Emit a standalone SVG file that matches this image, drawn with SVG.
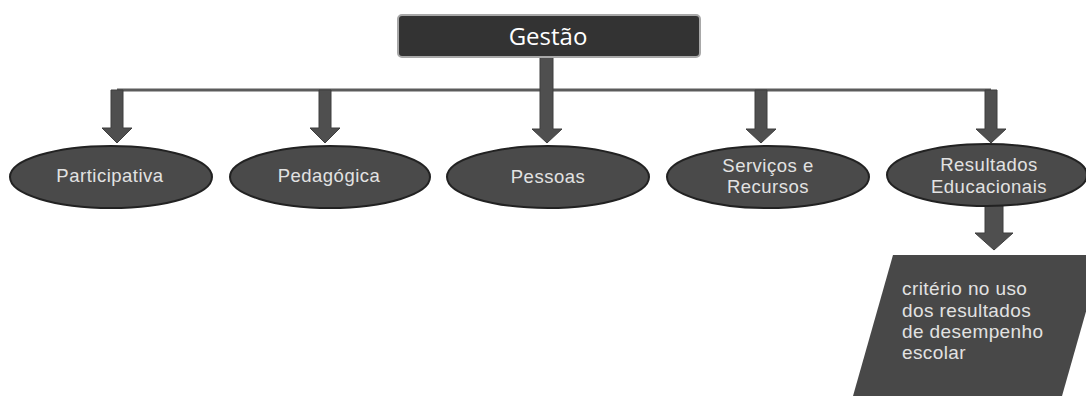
<svg xmlns="http://www.w3.org/2000/svg" width="1086" height="403" viewBox="0 0 1086 403">
<defs>
<style>
.conn{fill:#4f4f4f;stroke:#3f3f3f;stroke-width:1}
.hline{stroke:#5c5c5c;stroke-width:3;fill:none}
.ell{fill:#4a4a4a;stroke:#222;stroke-width:2}
.etxt{font-family:"Liberation Sans",Arial,sans-serif;font-size:18.5px;letter-spacing:0.5px;fill:#e2e2e2;text-anchor:middle}
.ptxt{font-family:"Liberation Sans",Arial,sans-serif;font-size:19px;letter-spacing:0.4px;fill:#e2e2e2}
</style>
</defs>
<rect width="1086" height="403" fill="#fff"/>
<g id="connectors">
<line class="hline" x1="117" y1="90" x2="991" y2="90"/>
<polygon class="conn" points="540,57 553,57 553,129 562,129 547,143 532,129 540,129"/>
<polygon class="conn" points="111,90 123,90 123,128 132,128 117,143 102,128 111,128"/>
<polygon class="conn" points="319,90 331,90 331,128 340,128 325,143 310,128 319,128"/>
<polygon class="conn" points="755,90 767,90 767,129 776,129 761,143 746,129 755,129"/>
<polygon class="conn" points="985,90 997,90 997,129 1006,129 991,143 976,129 985,129"/>
<polygon class="conn" points="985,205 1003,205 1003,233 1013,233 994,250 975,233 985,233"/>
</g>
<g id="gestao">
<rect x="398" y="15" width="302" height="42" rx="4" fill="#333" stroke="#a8a8a8" stroke-width="2"/>
<text x="548" y="45" font-family="'Open Sans','Noto Sans',sans-serif" font-size="24" fill="#fff" text-anchor="middle">Gestão</text>
</g>
<g id="participativa">
<ellipse class="ell" cx="111" cy="177" rx="101" ry="31"/>
<text class="etxt" x="110" y="182">Participativa</text>
</g>
<g id="pedagogica">
<ellipse class="ell" cx="330" cy="177" rx="100" ry="31"/>
<text class="etxt" x="329" y="182">Pedagógica</text>
</g>
<g id="pessoas">
<ellipse class="ell" cx="548" cy="177" rx="101" ry="31"/>
<text class="etxt" x="548" y="183">Pessoas</text>
</g>
<g id="servicos">
<ellipse class="ell" cx="768" cy="177" rx="101" ry="31"/>
<text class="etxt" x="768" y="172">Serviços e</text>
<text class="etxt" x="768" y="193">Recursos</text>
</g>
<g id="resultados">
<ellipse class="ell" cx="987" cy="175" rx="100" ry="31"/>
<text class="etxt" x="989" y="171">Resultados</text>
<text class="etxt" x="989" y="193">Educacionais</text>
</g>
<g id="criterio">
<polygon points="893,255 1102,255 1062,396 853,396" fill="#484848"/>
<text class="ptxt" x="902" y="295">critério no uso</text>
<text class="ptxt" x="902" y="317">dos resultados</text>
<text class="ptxt" x="902" y="338">de desempenho</text>
<text class="ptxt" x="902" y="359">escolar</text>
</g>
</svg>
